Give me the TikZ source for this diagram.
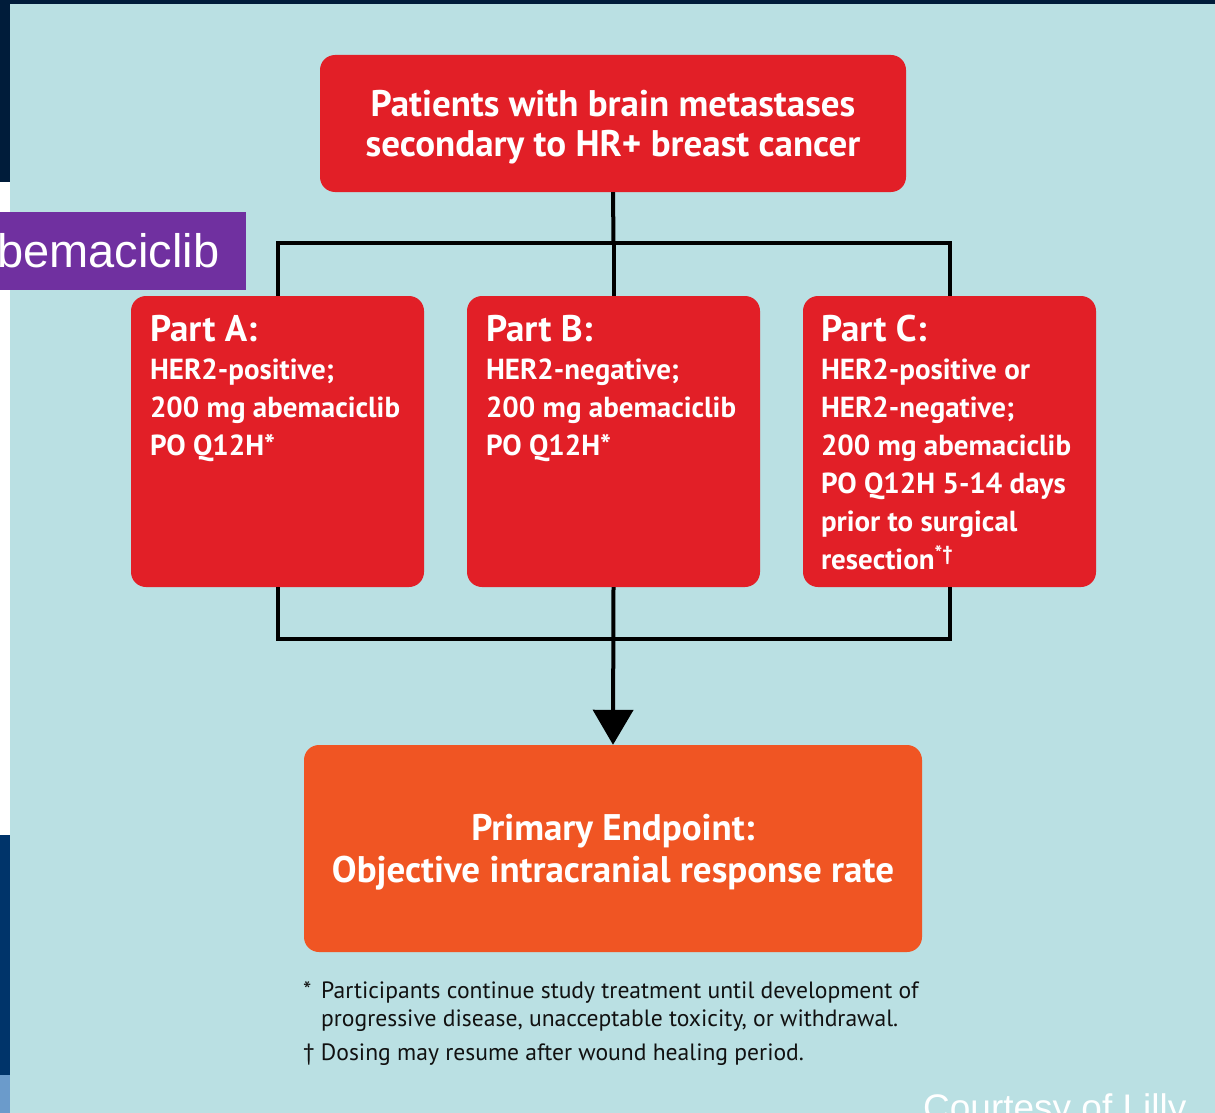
\documentclass[tikz,border=0pt]{standalone}
\usepackage{fontspec}
\setmainfont{PT Sans}
\newfontfamily\arialf{Liberation Sans}
\usetikzlibrary{arrows.meta,calc}
\definecolor{bgblue}{HTML}{BAE0E3}
\definecolor{boxred}{HTML}{E21F27}
\definecolor{boxorange}{HTML}{F05523}
\definecolor{lblpurple}{HTML}{7030A0}
\definecolor{navy}{HTML}{001C3A}
\definecolor{stripblue}{HTML}{00346A}
\definecolor{stripsky}{HTML}{6B9BCB}
\definecolor{notegray}{HTML}{111111}
\tikzset{
  redbox/.style={fill=boxred, rounded corners=15pt, inner sep=0pt, draw=none},
  orangebox/.style={fill=boxorange, rounded corners=15pt, inner sep=0pt, draw=none},
  partbox/.style={redbox, minimum width=293pt, minimum height=291pt},
  parttxt/.style={text=white, inner sep=0pt, anchor=base west, font=\fontsize{29}{38}\selectfont\bfseries},
  boxtxt/.style={text=white, inner sep=0pt, align=center},
  conn/.style={line width=4pt, black},
  note/.style={text=notegray, inner sep=0pt, anchor=base west, font=\fontsize{23.6}{28}\selectfont}
}
\newcommand{\parttitle}[1]{{\fontsize{37}{38}\selectfont #1}}
\begin{document}
\begin{tikzpicture}[x=1pt,y=-1pt]
\useasboundingbox (0,0) rectangle (1215,1113);
\clip (0,0) rectangle (1215,1113);
% background and side strips
\fill[navy] (0,0) rectangle (1215,1113);
\fill[white] (0,182) rectangle (10,835);
\fill[stripblue] (0,835) rectangle (10,1075);
\fill[stripsky] (0,1075) rectangle (10,1113);
\fill[bgblue] (10,4) rectangle (1215,1113);
% purple label
\node[fill=lblpurple, minimum width=246pt, minimum height=78pt, inner sep=0pt, anchor=north west] (lbl) at (0,212) {};
\node[text=white, inner sep=0pt, anchor=base west, font=\arialf\fontsize{47}{47}\selectfont] (lbltxt) at (-3,267) {bemaciclib};
% top box
\node[redbox, minimum width=586pt, minimum height=137pt] (top) at (613,123.5) {};
\node[boxtxt, font=\fontsize{37}{40}\selectfont\bfseries] (toptxt) at ($(top.center)+(0,4)$)
  {Patients with brain metastases\\secondary to HR+ breast cancer};
% part boxes
\node[partbox] (pa) at (277.5,441.5) {};
\node[partbox] (pb) at (613.5,441.5) {};
\node[partbox] (pc) at (949.5,441.5) {};
\node[parttxt] (ta) at ($(pa.north west)+(19,46)$)
  {\begin{tabular}[t]{@{}l@{}}\parttitle{Part A:}\\HER2-positive;\\200 mg abemaciclib\\PO Q12H*\end{tabular}};
\node[parttxt] (tb) at ($(pb.north west)+(19,46)$)
  {\begin{tabular}[t]{@{}l@{}}\parttitle{Part B:}\\HER2-negative;\\200 mg abemaciclib\\PO Q12H*\end{tabular}};
\node[parttxt] (tc) at ($(pc.north west)+(18,46)$)
  {\begin{tabular}[t]{@{}l@{}}\parttitle{Part C:}\\HER2-positive or\\HER2-negative;\\200 mg abemaciclib\\PO Q12H 5-14 days\\prior to surgical\\resection\textsuperscript{*†}\end{tabular}};
% endpoint box
\node[orangebox, minimum width=618pt, minimum height=207pt] (pe) at (613,848.5) {};
\node[boxtxt, font=\fontsize{37}{42}\selectfont\bfseries] (petxt) at ($(pe.center)+(0,4)$)
  {Primary Endpoint:\\Objective intracranial response rate};
% connectors
\coordinate (j1) at (613.5,243);
\coordinate (j2) at (613.5,639);
\draw[conn] (top.south) -- (j1);
\draw[conn] (pa.north) |- (j1) -| (pc.north);
\draw[conn] (j1) -- (pb.north);
\draw[conn] (pa.south) |- (j2) -| (pc.south);
\draw[conn, -{Triangle[width=40pt,length=35pt]}] (pb.south) -- (pe.north);
% footnotes
\node[note] (n1) at (303,998) {*};
\node[note] (n1t) at (321,998) {Participants continue study treatment until development of};
\node[note] (n2) at (321,1026) {progressive disease, unacceptable toxicity, or withdrawal.};
\node[note] (n3) at (303,1060) {† Dosing may resume after wound healing period.};
% credit
\node[text=white, inner sep=0pt, anchor=base west, font=\arialf\fontsize{37}{37}\selectfont] (credit) at (923,1120) {Courtesy of Lilly};
\end{tikzpicture}
\end{document}
